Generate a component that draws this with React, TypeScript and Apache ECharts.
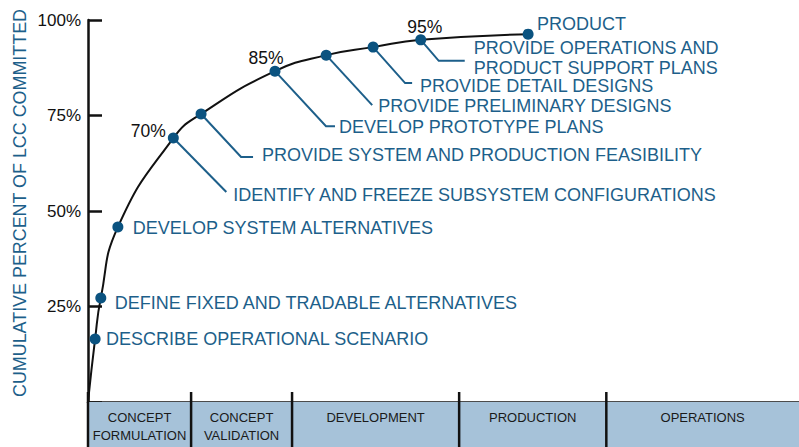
import React, { useEffect, useRef } from "react";
import * as echarts from "echarts";

// ---- data ----
const stageNames = [
  "DESCRIBE OPERATIONAL SCENARIO",
  "DEFINE FIXED AND TRADABLE ALTERNATIVES",
  "DEVELOP SYSTEM ALTERNATIVES",
  "IDENTIFY AND FREEZE SUBSYSTEM CONFIGURATIONS",
  "PROVIDE SYSTEM AND PRODUCTION FEASIBILITY",
  "DEVELOP PROTOTYPE PLANS",
  "PROVIDE PRELIMINARY DESIGNS",
  "PROVIDE DETAIL DESIGNS",
  "PROVIDE OPERATIONS AND\nPRODUCT SUPPORT PLANS",
  "PRODUCT",
];
// life-cycle position (% of horizontal span)
const stageX = [1.0, 1.8, 4.2, 12.0, 15.9, 26.3, 33.5, 40.1, 46.8, 61.9];
// cumulative percent of LCC committed
const stageCommitted = [16.5, 27.2, 45.8, 69.1, 75.4, 86.6, 90.8, 92.9, 94.8, 96.3];

const milestoneStage = [3, 5, 8];
const milestoneText = ["70%", "85%", "95%"];

const phaseNames = [
  "CONCEPT\nFORMULATION",
  "CONCEPT\nVALIDATION",
  "DEVELOPMENT",
  "PRODUCTION",
  "OPERATIONS",
];
const phaseStart = [0, 14.5, 28.7, 52.2, 72.9];
const phaseEnd = [14.5, 28.7, 52.2, 72.9, 100];

const curveStartX = 0;
const curveStartY = 0;

// ---- layout (pixel offsets for annotations) ----
const stageLayout: { path?: number[][]; text: number[] }[] = [
  { text: [11, 0] },
  { text: [14, 5] },
  { text: [15, 1] },
  { path: [[53, 54]], text: [60, 57] },
  { path: [[40, 43], [52, 43]], text: [61, 41] },
  { path: [[51, 55], [60, 55]], text: [64, 56] },
  { path: [[46, 50]], text: [52, 51] },
  { path: [[32, 36], [39, 36]], text: [47, 39] },
  { path: [[18, 21], [44, 21]], text: [53, 18] },
  { text: [9, -10] },
];
const milestoneOffset = [
  [-25, -7],
  [-9, -13],
  [4, -13],
];

const FONT = '"Liberation Sans", Arial, Helvetica, sans-serif';
const BLUE = "#1d5f8a";
const POINT = "#0b5380";
const BAND = "#a6c2d9";
const INK = "#111111";

export default function App() {
  const ref = useRef<HTMLDivElement>(null);
  useEffect(() => {
    if (!ref.current) return;
    const chart = echarts.init(ref.current, undefined, { renderer: "svg" });
    const curve = [[curveStartX, curveStartY]].concat(
      stageX.map((x, i) => [x, stageCommitted[i]])
    );
    const points = stageX.map((x, i) => [x, stageCommitted[i]]);
    const bands = phaseStart.map((s, i) => [s, phaseEnd[i], i]);

    chart.setOption({
      animation: false,
      textStyle: { fontFamily: FONT },
      grid: [
        { left: 88, right: 0, top: 20, height: 382 },
        { left: 88, right: 0, top: 402, height: 45 },
      ],
      xAxis: [
        {
          gridIndex: 0,
          type: "value",
          min: 0,
          max: 100,
          axisLine: { show: true, lineStyle: { color: INK, width: 2.5 } },
          axisTick: { show: false },
          axisLabel: { show: false },
          splitLine: { show: false },
        },
        {
          gridIndex: 1,
          type: "value",
          min: 0,
          max: 100,
          show: false,
        },
      ],
      yAxis: [
        {
          gridIndex: 0,
          type: "value",
          min: 0,
          max: 100,
          interval: 25,
          axisLine: { show: true, lineStyle: { color: INK, width: 2.5 } },
          axisTick: {
            show: true,
            inside: true,
            length: 14,
            lineStyle: { color: INK, width: 2.5 },
          },
          axisLabel: {
            formatter: (v: number) => (v === 0 ? "" : v + "%"),
            fontSize: 17,
            color: INK,
            margin: 7,
            fontFamily: FONT,
          },
          splitLine: { show: false },
        },
        { gridIndex: 1, type: "value", min: 0, max: 1, show: false },
      ],
      graphic: [
        {
          type: "text",
          x: 20,
          y: 203,
          rotation: Math.PI / 2,
          style: {
            text: "CUMULATIVE PERCENT OF LCC COMMITTED",
            fill: BLUE,
            fontSize: 17.9,
            fontFamily: FONT,
            align: "center",
            verticalAlign: "middle",
            textAlign: "center",
            textVerticalAlign: "middle",
          },
        },
      ],
      series: [
        {
          type: "custom",
          xAxisIndex: 1,
          yAxisIndex: 1,
          clip: false,
          z: 1,
          encode: { x: [0, 1] },
          data: bands,
          renderItem: (params: any, api: any) => {
            const i = params.dataIndex;
            const a = api.coord([api.value(0), 1]);
            const b = api.coord([api.value(1), 0]);
            return {
              type: "group",
              children: [
                {
                  type: "rect",
                  shape: { x: a[0], y: a[1], width: b[0] - a[0], height: b[1] - a[1] },
                  style: { fill: BAND },
                },
                {
                  type: "line",
                  shape: { x1: a[0], y1: a[1] - 10, x2: a[0], y2: b[1] },
                  style: { stroke: INK, lineWidth: 2.5 },
                },
                {
                  type: "text",
                  style: {
                    text: phaseNames[i],
                    x: (a[0] + b[0]) / 2,
                    y: a[1] + 6,
                    fill: "#1a1a1a",
                    fontSize: 13,
                    fontFamily: FONT,
                    lineHeight: 18,
                    align: "center",
                    verticalAlign: "top",
                    textAlign: "center",
                    textVerticalAlign: "top",
                  },
                },
              ],
            };
          },
        },
        {
          type: "line",
          xAxisIndex: 0,
          yAxisIndex: 0,
          data: curve,
          smooth: 0.5,
          showSymbol: false,
          z: 3,
          lineStyle: { color: INK, width: 2 },
        },
        {
          type: "custom",
          xAxisIndex: 0,
          yAxisIndex: 0,
          clip: false,
          z: 2,
          encode: { x: 0, y: 1 },
          data: points,
          renderItem: (params: any, api: any) => {
            const i = params.dataIndex;
            const p = api.coord([api.value(0), api.value(1)]);
            const lay = stageLayout[i];
            const children: any[] = [];
            if (lay.path) {
              children.push({
                type: "polyline",
                shape: {
                  points: [[p[0], p[1]]].concat(
                    lay.path.map(([dx, dy]) => [p[0] + dx, p[1] + dy])
                  ),
                },
                style: { stroke: BLUE, lineWidth: 2, fill: null },
              });
            }
            children.push({
              type: "text",
              style: {
                text: stageNames[i],
                x: p[0] + lay.text[0],
                y: p[1] + lay.text[1],
                fill: BLUE,
                fontSize: 18,
                fontFamily: FONT,
                lineHeight: 20,
                align: "left",
                verticalAlign: "middle",
                textAlign: "left",
                textVerticalAlign: "middle",
              },
            });
            const m = milestoneStage.indexOf(i);
            if (m >= 0) {
              children.push({
                type: "text",
                style: {
                  text: milestoneText[m],
                  x: p[0] + milestoneOffset[m][0],
                  y: p[1] + milestoneOffset[m][1],
                  fill: INK,
                  fontSize: 17.5,
                  fontFamily: FONT,
                  align: "center",
                  verticalAlign: "middle",
                  textAlign: "center",
                  textVerticalAlign: "middle",
                },
              });
            }
            return { type: "group", children };
          },
        },
        {
          type: "scatter",
          xAxisIndex: 0,
          yAxisIndex: 0,
          data: points,
          symbolSize: 11,
          z: 4,
          itemStyle: { color: POINT, opacity: 1 },
        },
      ],
    });
    return () => chart.dispose();
  }, []);
  return (
    <div
      ref={ref}
      style={{ position: "fixed", left: 0, top: 0, width: 799, height: 447, background: "#fff" }}
    />
  );
}
